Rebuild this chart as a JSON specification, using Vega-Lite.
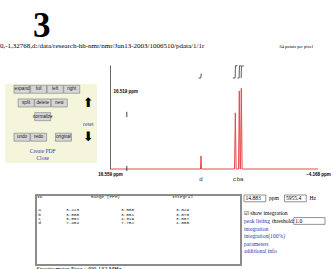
{
  "$schema": "https://vega.github.io/schema/vega-lite/v6.json",
  "background": "white",
  "padding": {"top": 9, "left": 0, "right": 0, "bottom": 0},
  "title": {"text": "3", "anchor": "start", "dx": 33, "fontSize": 35, "font": "Liberation Serif", "fontWeight": "bold", "color": "#000", "offset": -2},
  "config": {"view": {"stroke": null}},
  "spacing": 12,
  "vconcat": [
    {
      "title": {"text": "0,-1,32768,d:/data/research-hh-nmr/nmr/Jun13-2003/1006510/pdata/1/1r", "anchor": "start", "fontSize": 7, "font": "Liberation Serif", "fontWeight": "normal", "color": "#000", "offset": -5},
      "spacing": 0,
      "hconcat": [
        {
          "spacing": 4,
          "hconcat": [
            {"width": 1, "height": 1, "data": {"values": []}, "mark": "point"},
            {
              "spacing": 18,
              "vconcat": [
                {"width": 92, "height": 1, "data": {"values": []}, "mark": "point"},
                {
                  "width": 92,
                  "height": 79,
                  "view": {"fill": "#f5f5dc", "stroke": null},
                  "data": {"values": [
                    {"label": "expand", "kind": "button", "row": 0, "col": 4},
                    {"label": "full", "kind": "button", "row": 0, "col": 8},
                    {"label": "left", "kind": "button", "row": 0, "col": 12},
                    {"label": "right", "kind": "button", "row": 0, "col": 16},
                    {"label": "split", "kind": "button", "row": 2, "col": 5},
                    {"label": "delete", "kind": "button", "row": 2, "col": 9},
                    {"label": "new", "kind": "button", "row": 2, "col": 13},
                    {"label": "normalize", "kind": "button", "row": 4, "col": 9},
                    {"label": "undo", "kind": "button", "row": 7, "col": 4},
                    {"label": "redo", "kind": "button", "row": 7, "col": 8},
                    {"label": "original", "kind": "button", "row": 7, "col": 14},
                    {"label": "⬆", "kind": "arrow", "row": 2, "col": 20},
                    {"label": "⬇", "kind": "arrow", "row": 7, "col": 20},
                    {"label": "reset", "kind": "link", "row": 5, "col": 20},
                    {"label": "Create PDF", "kind": "link", "row": 9, "col": 9},
                    {"label": "Close", "kind": "link", "row": 10, "col": 9}
                  ]},
                  "encoding": {
                    "x": {"field": "col", "type": "ordinal", "scale": {"type": "point", "domain": [0,1,2,3,4,5,6,7,8,9,10,11,12,13,14,15,16,17,18,19,20,21,22], "padding": 0.1}, "axis": null},
                    "y": {"field": "row", "type": "ordinal", "scale": {"type": "point", "domain": [0,1,2,3,4,5,6,7,8,9,10], "padding": 0.77}, "axis": null}
                  },
                  "layer": [
                    {"transform": [{"filter": "datum.kind === 'button'"}], "mark": {"type": "rect", "width": 16, "height": 8, "fill": "#d6d6d6", "stroke": "#7a7a7a", "strokeWidth": 0.6}},
                    {"transform": [{"filter": "datum.kind === 'button'"}], "mark": {"type": "text", "font": "Liberation Sans", "fontSize": 4.6, "color": "#222", "baseline": "middle"}, "encoding": {"text": {"field": "label"}}},
                    {"transform": [{"filter": "datum.kind === 'link'"}], "mark": {"type": "text", "font": "Liberation Serif", "fontSize": 5.5, "color": "#3535b0", "baseline": "middle"}, "encoding": {"text": {"field": "label"}}},
                    {"transform": [{"filter": "datum.kind === 'arrow'"}], "mark": {"type": "text", "font": "DejaVu Sans", "fontSize": 13, "color": "#000", "baseline": "middle"}, "encoding": {"text": {"field": "label"}}}
                  ]
                }
              ]
            }
          ]
        },
        {
          "width": 208,
          "height": 104,
          "title": {"text": "64 points per pixel", "anchor": "end", "frame": "group", "dx": -5, "fontSize": 4.5, "font": "Liberation Serif", "fontWeight": "normal", "color": "#000", "offset": 15.5},
          "layer": [
            {
              "data": {"values": [
                {"ppm": 16.559, "intensity": 0},
                {"ppm": 7.54, "intensity": 0},
                {"ppm": 7.49, "intensity": 12.5},
                {"ppm": 7.44, "intensity": 0},
                {"ppm": 4.15, "intensity": 0},
                {"ppm": 4.07, "intensity": 54},
                {"ppm": 3.99, "intensity": 0},
                {"ppm": 3.75, "intensity": 0},
                {"ppm": 3.674, "intensity": 75},
                {"ppm": 3.595, "intensity": 0},
                {"ppm": 3.555, "intensity": 0},
                {"ppm": 3.475, "intensity": 77.6},
                {"ppm": 3.395, "intensity": 0},
                {"ppm": -4.168, "intensity": 0}
              ]},
              "mark": {"type": "line", "color": "#e34a4a", "strokeWidth": 1},
              "encoding": {
                "x": {"field": "ppm", "type": "quantitative", "scale": {"domain": [16.559, -4.168], "nice": false, "zero": false},
                  "axis": {"orient": "bottom", "values": [16.559, -4.168], "labelExpr": "format(datum.value, '.3f') + ' ppm'", "domain": false, "ticks": false, "grid": false, "title": null, "labelFont": "Liberation Sans", "labelFontSize": 4.5, "labelFontWeight": "bold", "labelColor": "#000", "labelPadding": 2, "labelOverlap": false, "labelFlush": false, "labelDx": 2}},
                "y": {"field": "intensity", "type": "quantitative", "scale": {"domain": [0, 100], "nice": false},
                  "axis": {"values": [75], "labelExpr": "'16.519 ppm'", "labelAlign": "left", "labelPadding": -3, "ticks": false, "domain": true, "domainColor": "#666", "domainWidth": 1, "grid": false, "title": null, "labelFont": "Liberation Sans", "labelFontWeight": "bold", "labelFontSize": 4.5, "labelColor": "#000"}}
              }
            },
            {
              "data": {"values": [{"ppm": 14.883}]},
              "mark": {"type": "rule", "color": "#444", "strokeWidth": 1},
              "encoding": {
                "x": {"field": "ppm", "type": "quantitative", "scale": {"domain": [16.559, -4.168], "nice": false, "zero": false}, "axis": null},
                "y": {"datum": 50, "type": "quantitative", "scale": {"domain": [0, 100], "nice": false}, "axis": null},
                "y2": {"datum": 55}
              }
            },
            {
              "data": {"values": [{"ppm": 14.883}]},
              "mark": {"type": "rule", "color": "#444", "strokeWidth": 1},
              "encoding": {
                "x": {"field": "ppm", "type": "quantitative", "scale": {"domain": [16.559, -4.168], "nice": false, "zero": false}, "axis": null},
                "y": {"datum": -2, "type": "quantitative", "scale": {"domain": [0, 100], "nice": false}, "axis": null},
                "y2": {"datum": 3}
              }
            },
            {
              "data": {"values": [
                {"region": "d", "ppm": 7.752, "integral": 0},
                {"region": "d", "ppm": 7.51, "integral": 0},
                {"region": "d", "ppm": 7.48, "integral": 1.0},
                {"region": "d", "ppm": 7.404, "integral": 1.0},
                {"region": "c", "ppm": 4.319, "integral": 0},
                {"region": "c", "ppm": 4.09, "integral": 0},
                {"region": "c", "ppm": 4.06, "integral": 3.087},
                {"region": "c", "ppm": 3.851, "integral": 3.087},
                {"region": "b", "ppm": 3.851, "integral": 0},
                {"region": "b", "ppm": 3.69, "integral": 0},
                {"region": "b", "ppm": 3.66, "integral": 3.07},
                {"region": "b", "ppm": 3.5, "integral": 3.07},
                {"region": "a", "ppm": 3.5, "integral": 0},
                {"region": "a", "ppm": 3.49, "integral": 0},
                {"region": "a", "ppm": 3.46, "integral": 3.029},
                {"region": "a", "ppm": 3.223, "integral": 3.029}
              ]},
              "mark": {"type": "line", "color": "#333", "strokeWidth": 0.8},
              "encoding": {
                "x": {"field": "ppm", "type": "quantitative", "scale": {"domain": [16.559, -4.168], "nice": false, "zero": false},
                  "axis": {"orient": "bottom", "values": [7.56, 4.2, 3.8, 3.48], "labelExpr": "datum.value > 7 ? 'd' : datum.value > 4 ? 'c' : datum.value > 3.6 ? 'b' : 'a'", "domain": false, "ticks": false, "grid": false, "title": null, "labelFont": "Liberation Sans", "labelFontSize": 6, "labelColor": "#333", "labelPadding": 6, "labelOverlap": false, "labelFlush": false}},
                "y": {"field": "integral", "type": "quantitative", "scale": {"domain": [-22.98, 3.28], "nice": false, "zero": false}, "axis": null},
                "detail": {"field": "region"}
              }
            }
          ],
          "resolve": {"scale": {"y": "independent"}, "axis": {"x": "independent"}}
        }
      ]
    },
    {
      "spacing": 1,
      "hconcat": [
        {"width": 34, "height": 1, "data": {"values": []}, "mark": "point"},
        {
          "width": 205,
          "height": 70,
          "view": {"stroke": "#8c8c8c", "strokeWidth": 2, "fill": "white"},
          "data": {"values": [
            {"line": 0, "col": "ID", "text": "ID"},
            {"line": 0, "col": "range", "text": "Range (PPM)"},
            {"line": 0, "col": "integral", "text": "Integral"},
            {"line": 3, "col": "ID", "text": "a"},
            {"line": 3, "col": "from", "text": "3.223"},
            {"line": 3, "col": "to", "text": "3.500"},
            {"line": 3, "col": "integral", "text": "3.029"},
            {"line": 4, "col": "ID", "text": "b"},
            {"line": 4, "col": "from", "text": "3.500"},
            {"line": 4, "col": "to", "text": "3.851"},
            {"line": 4, "col": "integral", "text": "3.070"},
            {"line": 5, "col": "ID", "text": "c"},
            {"line": 5, "col": "from", "text": "3.851"},
            {"line": 5, "col": "to", "text": "4.319"},
            {"line": 5, "col": "integral", "text": "3.087"},
            {"line": 6, "col": "ID", "text": "d"},
            {"line": 6, "col": "from", "text": "7.404"},
            {"line": 6, "col": "to", "text": "7.752"},
            {"line": 6, "col": "integral", "text": "1.000"}
          ]},
          "mark": {"type": "text", "font": "Liberation Mono", "fontSize": 4.4, "color": "#111", "align": "center", "baseline": "middle"},
          "encoding": {
            "x": {"field": "col", "type": "ordinal",
              "scale": {"type": "point", "domain": ["ID", "s1", "s2", "from", "s4", "s5", "range", "s7", "to", "s9", "s10", "s11", "s12", "integral", "s14", "s15", "s16", "s17", "s18"], "padding": 0.32},
              "axis": {"orient": "bottom", "domain": false, "ticks": false, "labels": false, "grid": false, "title": "Spectrometer Freq.: 400.132 MHz", "titleFont": "Liberation Serif", "titleFontSize": 6.2, "titleFontWeight": "normal", "titleColor": "#000", "titleAnchor": "start", "titleAlign": "left", "titlePadding": 0}},
            "y": {"field": "line", "type": "ordinal", "scale": {"type": "band", "domain": [0,1,2,3,4,5,6,7,8,9,10,11,12,13,14,15], "paddingInner": 0, "paddingOuter": 0}, "axis": null},
            "text": {"field": "text"}
          }
        },
        {
          "width": 81,
          "height": 67,
          "data": {"values": [
            {"kind": "box", "line": 0, "col": 0, "col2": 7},
            {"kind": "box", "line": 0, "col": 13, "col2": 20},
            {"kind": "box", "line": 3, "col": 16, "col2": 26},
            {"kind": "input", "line": 0, "col": 0, "text": "14.883"},
            {"kind": "input", "line": 0, "col": 13, "text": "5955.4"},
            {"kind": "input", "line": 3, "col": 16, "text": "1.0"},
            {"kind": "plain", "line": 0, "col": 8, "text": "ppm"},
            {"kind": "plain", "line": 0, "col": 21, "text": "Hz"},
            {"kind": "check", "line": 2, "col": 0, "text": "☑"},
            {"kind": "plain", "line": 2, "col": 2, "text": "show integration"},
            {"kind": "plain", "line": 3, "col": 9, "text": "threshold:"},
            {"kind": "link", "line": 3, "col": 0, "text": "peak listing"},
            {"kind": "link", "line": 4, "col": 0, "text": "integration"},
            {"kind": "link", "line": 5, "col": 0, "text": "integration(100%)"},
            {"kind": "link", "line": 6, "col": 0, "text": "parameters"},
            {"kind": "link", "line": 7, "col": 0, "text": "additional info"}
          ]},
          "encoding": {
            "x": {"field": "col", "type": "ordinal", "scale": {"type": "point", "domain": [0,1,2,3,4,5,6,7,8,9,10,11,12,13,14,15,16,17,18,19,20,21,22,23,24,25,26], "padding": 0}, "axis": null},
            "y": {"field": "line", "type": "ordinal", "scale": {"type": "band", "domain": [0,1,2,3,4,5,6,7,8], "paddingInner": 0.1, "paddingOuter": 0}, "axis": null}
          },
          "layer": [
            {"transform": [{"filter": "datum.kind === 'box'"}], "mark": {"type": "rect", "fill": "white", "stroke": "#777", "strokeWidth": 0.8}, "encoding": {"x2": {"field": "col2"}}},
            {"transform": [{"filter": "datum.kind === 'input'"}], "mark": {"type": "text", "font": "Liberation Serif", "fontSize": 5.5, "color": "#000", "align": "left", "baseline": "middle", "dx": 1.5}, "encoding": {"text": {"field": "text"}}},
            {"transform": [{"filter": "datum.kind === 'plain'"}], "mark": {"type": "text", "font": "Liberation Serif", "fontSize": 5.6, "color": "#000", "align": "left", "baseline": "middle"}, "encoding": {"text": {"field": "text"}}},
            {"transform": [{"filter": "datum.kind === 'check'"}], "mark": {"type": "text", "font": "DejaVu Sans", "fontSize": 5.5, "color": "#000", "align": "left", "baseline": "middle"}, "encoding": {"text": {"field": "text"}}},
            {"transform": [{"filter": "datum.kind === 'link'"}], "mark": {"type": "text", "font": "Liberation Serif", "fontSize": 5.6, "color": "#3535b0", "align": "left", "baseline": "middle"}, "encoding": {"text": {"field": "text"}}}
          ]
        }
      ]
    }
  ]
}
